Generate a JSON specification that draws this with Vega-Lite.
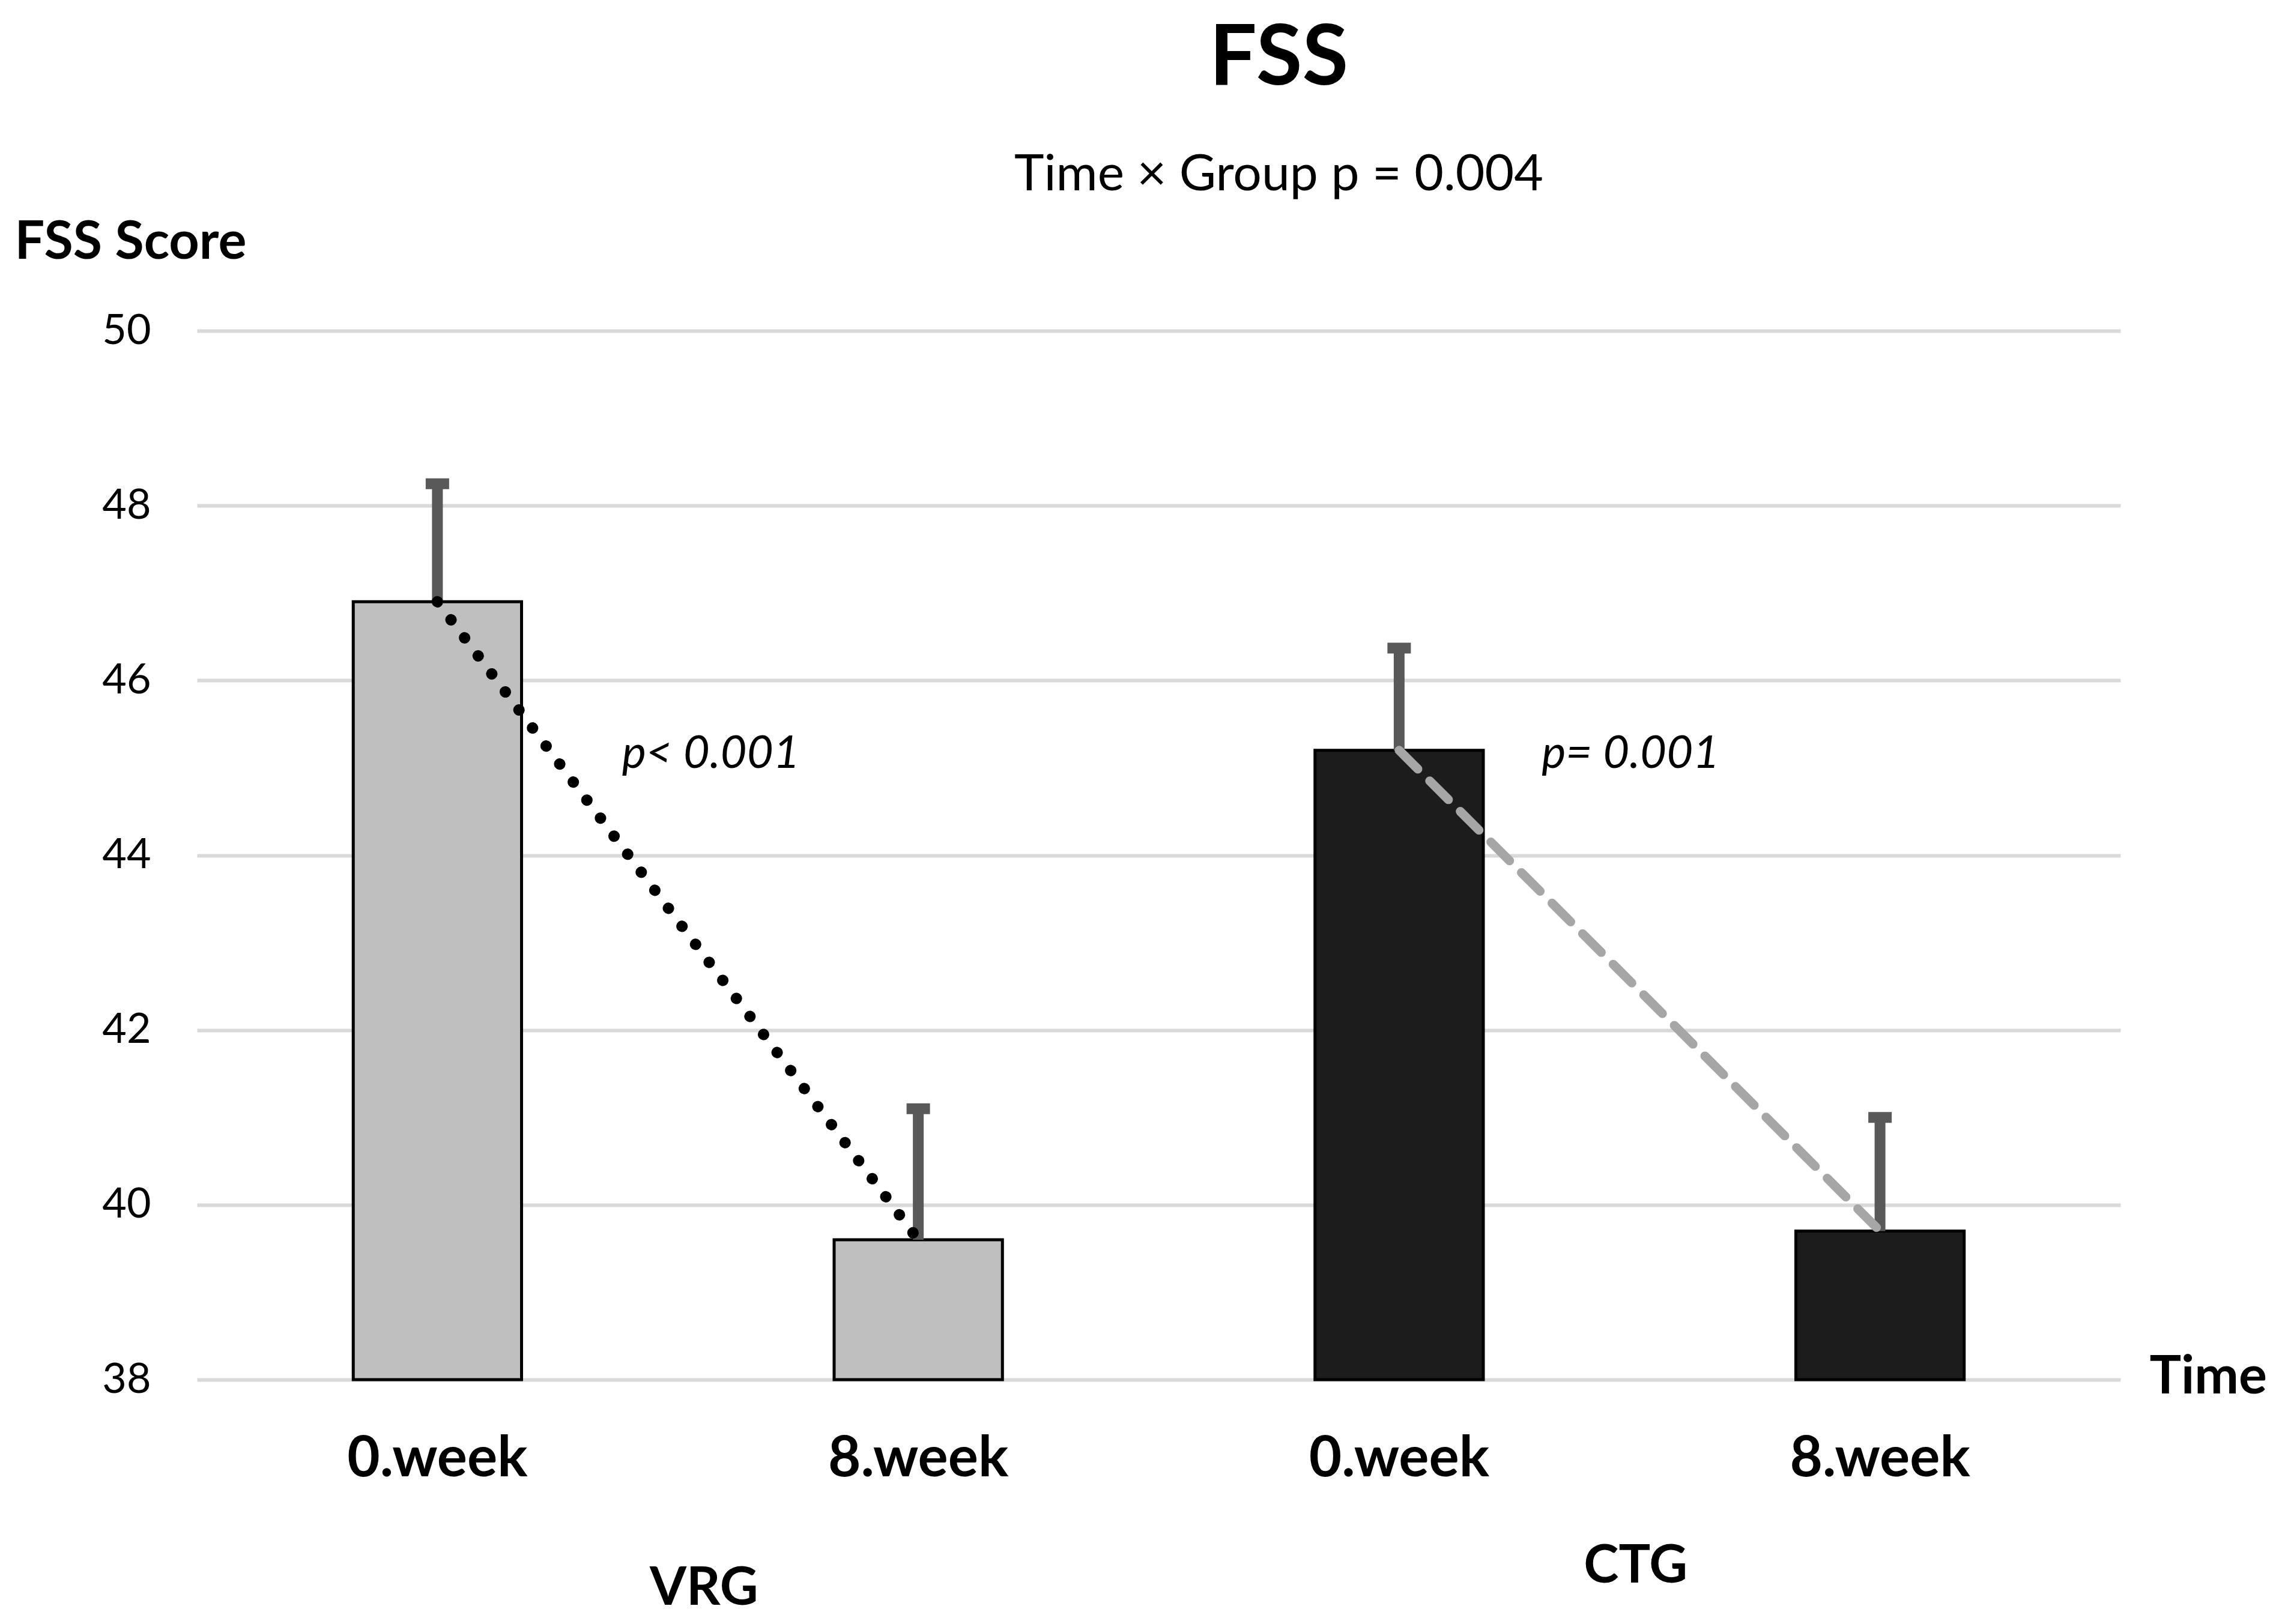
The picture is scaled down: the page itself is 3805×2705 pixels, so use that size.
{
  "$schema": "https://vega.github.io/schema/vega-lite/v6.json",
  "width": 3203,
  "height": 1747,
  "autosize": {"type": "none"},
  "padding": {"left": 328, "top": 551, "right": 274, "bottom": 407},
  "background": "white",
  "config": {"font": "Lato", "view": {"stroke": null}},
  "title": {
    "text": "FSS",
    "subtitle": "Time × Group p = 0.004",
    "anchor": "middle",
    "frame": "group",
    "dx": 200,
    "offset": 25,
    "font": "Lato",
    "fontSize": 140,
    "fontWeight": "bold",
    "color": "black",
    "subtitleFont": "Lato",
    "subtitleFontSize": 84,
    "subtitleColor": "black",
    "subtitlePadding": 81
  },
  "layer": [
    {
      "data": {
        "values": [
          {"key": "VRG 0.week", "group": "VRG", "value": 46.9, "upper": 48.25},
          {"key": "VRG 8.week", "group": "VRG", "value": 39.6, "upper": 41.1},
          {"key": "CTG 0.week", "group": "CTG", "value": 45.2, "upper": 46.37},
          {"key": "CTG 8.week", "group": "CTG", "value": 39.7, "upper": 41.0}
        ]
      },
      "encoding": {
        "x": {
          "field": "key",
          "type": "nominal",
          "sort": null,
          "scale": {"paddingInner": 0.65, "paddingOuter": 0.325},
          "axis": {
            "labelExpr": "slice(datum.value, 4)",
            "domain": false,
            "ticks": false,
            "tickSize": 0,
            "grid": false,
            "labelFont": "Lato",
            "labelFontSize": 94,
            "labelFontWeight": "bold",
            "labelColor": "black",
            "labelPadding": 160,
            "labelLimit": 0,
            "labelBaseline": "alphabetic",
            "labelAngle": 0,
            "title": "Time",
            "titleFont": "Lato",
            "titleX": 3251,
            "titleY": 22,
            "titleAlign": "left",
            "titleBaseline": "alphabetic",
            "titleFontSize": 88,
            "titleFontWeight": "bold",
            "titleColor": "black"
          }
        },
        "y": {
          "field": "value",
          "type": "quantitative",
          "scale": {"domain": [38, 50], "zero": false, "nice": false},
          "axis": {
            "values": [38, 40, 42, 44, 46, 48, 50],
            "format": "d",
            "grid": true,
            "gridColor": "#d9d9d9",
            "gridWidth": 6,
            "domain": false,
            "ticks": false,
            "tickSize": 0,
            "labelFont": "Lato",
            "labelFontSize": 70,
            "labelColor": "black",
            "labelPadding": 77,
            "title": "FSS Score",
            "titleFont": "Lato",
            "titleAngle": 0,
            "titleAlign": "left",
            "titleBaseline": "alphabetic",
            "titleX": -304,
            "titleY": -121,
            "titleFontSize": 88,
            "titleFontWeight": "bold",
            "titleColor": "black"
          }
        }
      },
      "layer": [
        {
          "mark": {"type": "bar", "stroke": "black", "strokeWidth": 5},
          "encoding": {
            "y2": {"datum": 38},
            "color": {
              "field": "group",
              "type": "nominal",
              "scale": {"domain": ["VRG", "CTG"], "range": ["#bfbfbf", "#1c1c1c"]},
              "legend": null
            }
          }
        },
        {
          "mark": {"type": "rule", "color": "#595959", "strokeWidth": 18},
          "encoding": {"y2": {"field": "upper"}}
        },
        {
          "mark": {"type": "tick", "color": "#595959", "thickness": 18, "size": 39, "opacity": 1},
          "encoding": {"y": {"field": "upper", "type": "quantitative"}}
        },
        {
          "transform": [{"filter": "datum.group == 'VRG'"}],
          "mark": {"type": "line", "color": "black", "strokeWidth": 19, "strokeDash": [0.1, 37.5], "strokeCap": "round"}
        },
        {
          "transform": [{"filter": "datum.group == 'CTG'"}],
          "mark": {"type": "line", "color": "#a6a6a6", "strokeWidth": 15, "strokeDash": [44, 28], "strokeCap": "round"}
        }
      ]
    },
    {
      "data": {
        "values": [
          {"group": "VRG", "p": "p< 0.001"},
          {"group": "CTG", "p": "p= 0.001"}
        ]
      },
      "encoding": {
        "x": {
          "field": "group",
          "type": "nominal",
          "sort": ["VRG", "CTG"],
          "scale": {"paddingInner": 0, "paddingOuter": 0},
          "axis": {
            "orient": "bottom",
            "domain": false,
            "ticks": false,
            "tickSize": 0,
            "grid": false,
            "labelFont": "Lato",
            "labelFontSize": 88,
            "labelFontWeight": "bold",
            "labelColor": "black",
            "labelAngle": 0,
            "labelLimit": 0,
            "labelBaseline": "alphabetic",
            "labelPadding": {"condition": {"test": "datum.value == 'VRG'", "value": 374}, "value": 337},
            "labelOffset": {"condition": {"test": "datum.value == 'VRG'", "value": 43}, "value": -7},
            "title": null
          }
        },
        "y": {"datum": 45.0, "type": "quantitative"},
        "text": {"field": "p"}
      },
      "layer": [
        {
          "transform": [{"filter": "datum.group == 'VRG'"}],
          "mark": {"type": "text", "font": "Lato", "fontStyle": "italic", "fontSize": 76, "baseline": "alphabetic", "align": "center", "color": "black", "dx": 55}
        },
        {
          "transform": [{"filter": "datum.group == 'CTG'"}],
          "mark": {"type": "text", "font": "Lato", "fontStyle": "italic", "fontSize": 76, "baseline": "alphabetic", "align": "center", "color": "black", "dx": -15}
        }
      ]
    }
  ],
  "resolve": {"scale": {"x": "independent"}, "axis": {"x": "independent"}}
}
